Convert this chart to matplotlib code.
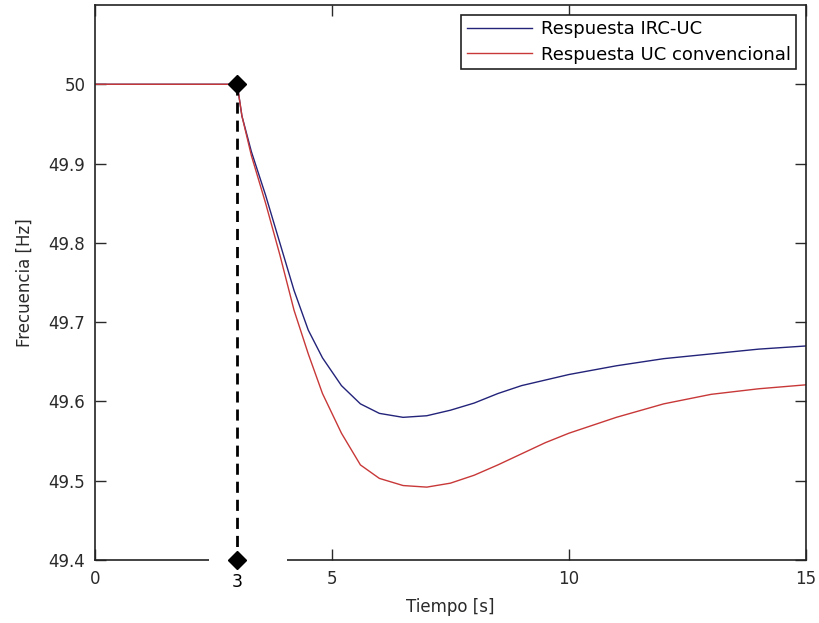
import matplotlib.pyplot as plt
from matplotlib.patches import Rectangle

plt.rcParams['font.family'] = ['DejaVu Sans']

# Respuesta de frecuencia tras el evento en t = 3 s
tiempo = [0, 3, 3.1, 3.3, 3.6, 3.9, 4.2, 4.5, 4.8, 5.2, 5.6, 6.0, 6.5, 7.0,
          7.5, 8.0, 8.5, 9.0, 9.5, 10.0, 11.0, 12.0, 13.0, 14.0, 15.0]
f_irc = [50, 50, 49.96, 49.915, 49.86, 49.80, 49.74, 49.69, 49.655, 49.62,
         49.597, 49.585, 49.58, 49.582, 49.589, 49.598, 49.61, 49.62, 49.627,
         49.634, 49.645, 49.654, 49.66, 49.666, 49.67]
f_conv = [50, 50, 49.96, 49.91, 49.85, 49.785, 49.715, 49.66, 49.61, 49.56,
          49.52, 49.503, 49.494, 49.492, 49.497, 49.507, 49.52, 49.534, 49.548,
          49.56, 49.58, 49.597, 49.609, 49.616, 49.621]

t_evento = 3
f_nominal = 50
f_base = 49.4

xticks = [0, 5, 10, 15]
yticks = [49.4, 49.5, 49.6, 49.7, 49.8, 49.9, 50.0]
ytick_labels = ['49.4', '49.5', '49.6', '49.7', '49.8', '49.9', '50']

fig = plt.figure(figsize=(8.19, 6.23), dpi=100)
ax = fig.add_axes([0.116, 0.101, 0.868, 0.891])

ax.plot(tiempo, f_irc, color='#23237a', linewidth=1.0, label='Respuesta IRC-UC')
ax.plot(tiempo, f_conv, color='#c83838', linewidth=1.0, label='Respuesta UC convencional')

ax.set_xlim(0, 15)
ax.set_ylim(49.4, 50.1)
ax.set_xticks(xticks)
ax.set_yticks(yticks)
ax.set_yticklabels(ytick_labels)
ax.tick_params(direction='in', length=8, width=1, top=True, right=True,
               labelsize=12, colors='#2a2a2a', pad=7)
for s in ax.spines.values():
    s.set_linewidth(1.2)
    s.set_color('#222222')

ax.set_xlabel('Tiempo [s]', fontsize=12, color='#2a2a2a', labelpad=7)
ax.set_ylabel('Frecuencia [Hz]', fontsize=12, color='#2a2a2a', labelpad=11)

# hueco blanco en el eje x alrededor del instante del evento
ax.add_patch(Rectangle((2.4, 49.392), 1.66, 0.016, facecolor='white',
                       edgecolor='none', zorder=5, clip_on=False))

# línea discontinua y marcadores del instante del evento
ax.plot([t_evento, t_evento], [f_nominal, f_base], color='black',
        linestyle=(0, (4, 2.5)), linewidth=2, zorder=6, clip_on=False)
ax.plot([t_evento, t_evento], [f_nominal, f_base], linestyle='none',
        marker='D', markersize=9.5, color='black', zorder=7, clip_on=False)
ax.annotate(str(t_evento), xy=(t_evento, f_base), xytext=(0, -16),
            textcoords='offset points', ha='center', va='center',
            fontsize=12.5, color='black', annotation_clip=False)

leg = ax.legend(loc='upper right', fontsize=13, fancybox=False,
                framealpha=1, edgecolor='#222222', handlelength=3.6,
                handletextpad=0.5, borderaxespad=0.55, labelspacing=0.4,
                borderpad=0.3)
leg.get_frame().set_linewidth(1.2)

fig.savefig('out.png', dpi=100)
